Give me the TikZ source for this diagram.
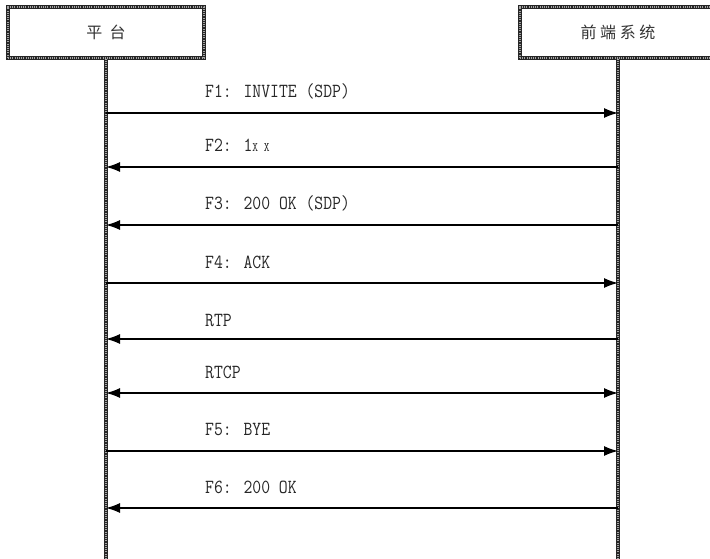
\documentclass[tikz,border=0pt]{standalone}
\usepackage{fontspec}
\usepackage{tikz}
\usetikzlibrary{arrows.meta, positioning, calc}
\newfontfamily\cjk{Noto Sans CJK SC}
\newfontfamily\msgfont[FakeStretch=0.86]{Latin Modern Mono}

\tikzset{
  hatched/.style={preaction={draw=black!85, line width=4pt, solid}, draw=white!65!black, line width=1.3pt, dash pattern=on 1pt off 1.2pt},
  actor/.style={hatched, rectangle, minimum width=196pt, minimum height=51pt, inner sep=0pt, font=\cjk\fontsize{16}{16}\selectfont, text=black!80},
  msg/.style={line width=1.4pt, -{Latex[length=14pt,width=10pt]}},
  bimsg/.style={line width=1.4pt, {Latex[length=14pt,width=10pt]}-{Latex[length=14pt,width=10pt]}},
  lbl/.style={anchor=base west, inner sep=0pt, font=\msgfont\fontsize{20}{20}\selectfont, text=black!85}
}

\begin{document}
\begin{tikzpicture}[x=1pt, y=-1pt]
\useasboundingbox (0,0) rectangle (710,559);

% 参与者
\node[actor] (plat) at (106,32.5) {平\ \ 台};
\node[actor] (front) at (618,32.5) {前\ 端\ 系\ 统};

% 生命线
\coordinate (platend) at (106,562);
\coordinate (frontend) at (618,562);
\draw[hatched] (plat.south) -- (platend);
\draw[hatched] (front.south) -- (frontend);

% 消息位置
\foreach \n/\y in {1/113, 2/167, 3/225, 4/283, 5/339, 6/393, 7/451, 8/508} {
  \coordinate (p\n) at (106,\y);
  \coordinate (q\n) at (618,\y);
}

% 消息
\draw[msg] (p1) -- (q1);
\node[lbl] (m1) at (205,98) {F1: INVITE (SDP)};
\draw[msg] (q2) -- (p2);
\node[lbl] (m2) at (205,152) {F2: 1{\fontsize{13}{13}\selectfont X X}};
\draw[msg] (q3) -- (p3);
\node[lbl] (m3) at (205,210) {F3: 200 OK (SDP)};
\draw[msg] (p4) -- (q4);
\node[lbl] (m4) at (205,268) {F4: ACK};
\draw[msg] (q5) -- (p5);
\node[lbl] (m5) at (205,326) {RTP};
\draw[bimsg] (p6) -- (q6);
\node[lbl] (m6) at (205,378) {RTCP};
\draw[msg] (p7) -- (q7);
\node[lbl] (m7) at (205,435) {F5: BYE};
\draw[msg] (q8) -- (p8);
\node[lbl] (m8) at (205,493) {F6: 200 OK};

\end{tikzpicture}
\end{document}
